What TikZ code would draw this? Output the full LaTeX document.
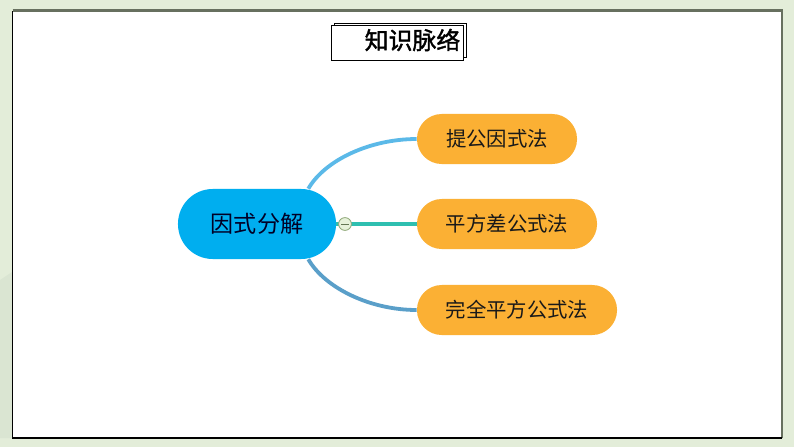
\documentclass[tikz,border=0pt]{standalone}
\usepackage{fontspec}
\setmainfont{Noto Sans CJK SC}
\newfontfamily\titlefont[FakeBold=1.6]{Noto Sans CJK SC}
\definecolor{pagegreen}{HTML}{E3EDD9}
\definecolor{shadegreen}{HTML}{DAE5D2}
\definecolor{framegray}{HTML}{67705F}
\definecolor{rootblue}{HTML}{00AEEF}
\definecolor{leaforange}{HTML}{FBB034}
\definecolor{lineblue}{HTML}{5BB9E8}
\definecolor{lineteal}{HTML}{2EBFB0}
\definecolor{linesteel}{HTML}{5A9FC9}
\definecolor{minusfill}{HTML}{E6F1DA}
\definecolor{minusline}{HTML}{8FA878}
\tikzset{
    rootnode/.style={fill=rootblue,rounded corners=0.87cm,minimum width=3.95cm,minimum height=1.75cm,inner sep=0pt,font=\fontsize{16.4pt}{18pt}\selectfont,text=black!85!blue},
    leafnode/.style={fill=leaforange,rounded corners=0.62cm,minimum height=1.25cm,inner sep=0pt,font=\fontsize{14.5pt}{16pt}\selectfont,text=black!90},
    titlebox/.style={draw=black,fill=white,line width=0.6pt,minimum width=3.3cm,minimum height=0.86cm,inner sep=0pt},
    branch/.style={line width=2.7pt},
}
\begin{document}
\begin{tikzpicture}[x=0.025cm,y=-0.025cm]
    \useasboundingbox (0,0) rectangle (794,447);
    \fill[pagegreen] (0,0) rectangle (794,447);
    \fill[shadegreen] (0,280)--(12,272)--(12,438)--(0,438)--cycle;
    \fill[white] (12.5,10.5) rectangle (782,438);
    \draw[framegray,line width=1.5pt] (12.5,10.5)--(782,10.5)--(782,438);
    \draw[black,line width=1pt] (782,438)--(12.5,438)--(12.5,10.5);
    % title
    \node[titlebox] (titleback) at (400,40.5) {};
    \node[titlebox] (titlefront) at (397,43) {};
    \node[font=\fontsize{17pt}{19pt}\selectfont\titlefont,inner sep=0pt] (titletext) at (412.5,40) {知识脉络};
    % nodes
    \node[rootnode] (root) at (257,224) {因式分解};
    \node[leafnode,minimum width=4cm] (leafa) at (497,139) {提公因式法};
    \node[leafnode,minimum width=4.5cm] (leafb) at (507,224) {平方差公式法};
    \node[leafnode,minimum width=5cm] (leafc) at (517,310) {完全平方公式法};
    % branches
    \draw[branch,lineblue] ([xshift=-0.7cm]root.north east) .. controls (325,160) and (370,139) .. (leafa.west);
    \draw[branch,lineteal] (root.east)--(leafb.west);
    \draw[branch,linesteel] ([xshift=-0.7cm]root.south east) .. controls (325,288) and (370,310) .. (leafc.west);
    \node[circle,draw=minusline,fill=minusfill,line width=0.6pt,minimum size=0.32cm,inner sep=0pt] (fold) at (345,224) {};
    \draw[minusline!70!black,line width=0.5pt] ([xshift=-0.09cm]fold.center)--([xshift=0.09cm]fold.center);
\end{tikzpicture}
\end{document}
